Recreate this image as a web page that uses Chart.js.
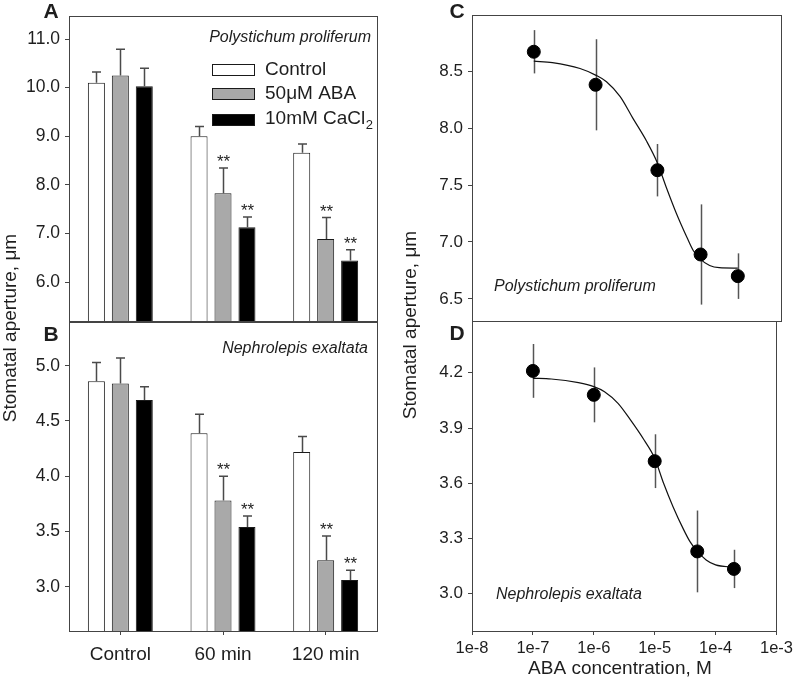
<!DOCTYPE html>
<html>
<head>
<meta charset="utf-8">
<script src="https://cdn.jsdelivr.net/npm/chart.js@4.4.1/dist/chart.umd.min.js"></script>
<style>
  html, body { margin: 0; padding: 0; background: #fff; }
  #wrap { position: relative; width: 797px; height: 685px; }
  canvas { position: absolute; left: 0; top: 0; }
</style>
</head>
<body>
<div id="wrap">
  <canvas id="panelA" width="797" height="685"></canvas>
  <canvas id="panelB" width="797" height="685"></canvas>
  <canvas id="panelC" width="797" height="685"></canvas>
  <canvas id="panelD" width="797" height="685"></canvas>
</div>
<script>
// categories
const groups = ["Control", "60 min", "120 min"];
const treatments = ["Control", "50\u03bcM ABA", "10mM CaCl\u2082"];

// panel A - Polystichum proliferum, bar means and upper errors
const polyControl = [10.10, 9.00, 8.66];
const polyControlErr = [0.22, 0.20, 0.18];
const polyAba = [10.25, 7.83, 6.89];
const polyAbaErr = [0.54, 0.52, 0.44];
const polyCacl = [10.03, 7.13, 6.45];
const polyCaclErr = [0.37, 0.21, 0.22];
const polyTicks = [6, 7, 8, 9, 10, 11];

// panel B - Nephrolepis exaltata
const nephControl = [4.86, 4.39, 4.22];
const nephControlErr = [0.17, 0.17, 0.14];
const nephAba = [4.84, 3.78, 3.24];
const nephAbaErr = [0.23, 0.22, 0.22];
const nephCacl = [4.69, 3.54, 3.06];
const nephCaclErr = [0.12, 0.10, 0.09];
const nephTicks = [3.0, 3.5, 4.0, 4.5, 5.0];

// significance marks (same for both species)
const controlSig = ["", "", ""];
const abaSig = ["", "**", "**"];
const caclSig = ["", "**", "**"];

// panels C and D - ABA dose response
const abaConc = [1e-7, 1e-6, 1e-5, 5e-5, 2e-4];
const polyDose = [8.67, 8.38, 7.63, 6.89, 6.70];
const polyDoseErr = [0.19, 0.40, 0.23, 0.44, 0.20];
const nephDose = [4.21, 4.08, 3.72, 3.23, 3.135];
const nephDoseErr = [0.146, 0.149, 0.146, 0.222, 0.104];

// fitted curves
const fitConc = [1e-7, 2e-7, 5.6e-7, 1e-6, 1.5e-6, 2.5e-6, 4e-6, 6.7e-6, 1e-5,
                 1.4e-5, 2e-5, 3e-5, 3.8e-5, 4.9e-5, 7e-5, 1e-4, 2e-4];
const polyFit = [8.587, 8.575, 8.523, 8.465, 8.407, 8.276, 8.087, 7.884, 7.694,
                 7.476, 7.259, 7.041, 6.925, 6.852, 6.794, 6.774, 6.770];
const nephFit = [4.170, 4.166, 4.146, 4.125, 4.097, 4.034, 3.944, 3.835, 3.736,
                 3.600, 3.473, 3.347, 3.283, 3.234, 3.184, 3.157, 3.144];

const concTicks = [1e-8, 1e-7, 1e-6, 1e-5, 1e-4, 1e-3];
const polyDoseTicks = [6.5, 7.0, 7.5, 8.0, 8.5];
const nephDoseTicks = [3.0, 3.3, 3.6, 3.9, 4.2];

const FONT = "'Liberation Sans', Arial, Helvetica, sans-serif";
const INK = "#1e1e1e";
const AXIS = "#444";
const barFill = ["#ffffff", "#a9a9a9", "#000000"];

Chart.defaults.font.family = FONT;
Chart.defaults.color = INK;

// box around each plot area
const frame = {
  id: "frame",
  afterDraw(chart) {
    const { ctx, chartArea: a } = chart;
    ctx.save();
    ctx.strokeStyle = AXIS;
    ctx.lineWidth = 1;
    ctx.strokeRect(Math.round(a.left) + 0.5, Math.round(a.top) + 0.5,
      Math.round(a.right - a.left), Math.round(a.bottom - a.top));
    ctx.restore();
  }
};

// upward error bars with caps + significance stars
const barErrors = {
  id: "barErrors",
  afterDatasetsDraw(chart, args, o) {
    if (!o.errors) return;
    const ctx = chart.ctx;
    const y = chart.scales.y;
    ctx.save();
    chart.data.datasets.forEach((ds, i) => {
      chart.getDatasetMeta(i).data.forEach((bar, j) => {
        const top = y.getPixelForValue(ds.data[j] + o.errors[i][j]);
        const x = Math.round(bar.x) + 0.5;
        ctx.strokeStyle = "#4a4a4a";
        ctx.lineWidth = 1.5;
        ctx.beginPath();
        ctx.moveTo(x, bar.y);
        ctx.lineTo(x, top);
        ctx.moveTo(x - 4.5, top);
        ctx.lineTo(x + 4.5, top);
        ctx.stroke();
        if (o.marks[i][j]) {
          ctx.fillStyle = INK;
          ctx.font = "17px " + FONT;
          ctx.textAlign = "center";
          ctx.textBaseline = "alphabetic";
          ctx.fillText(o.marks[i][j], x, top - 1);
        }
      });
    });
    ctx.restore();
  }
};

// symmetric vertical error bars for the dose points
const pointErrors = {
  id: "pointErrors",
  beforeDatasetsDraw(chart, args, o) {
    if (!o.errors) return;
    const { ctx, scales } = chart;
    ctx.save();
    ctx.strokeStyle = "#555";
    ctx.lineWidth = 1.5;
    o.conc.forEach((c, i) => {
      const x = Math.round(scales.x.getPixelForValue(c)) + 0.5;
      ctx.beginPath();
      ctx.moveTo(x, scales.y.getPixelForValue(o.means[i] - o.errors[i]));
      ctx.lineTo(x, scales.y.getPixelForValue(o.means[i] + o.errors[i]));
      ctx.stroke();
    });
    ctx.restore();
  }
};

function drawLabel(ctx, text, x, y, size) {
  // handles a trailing subscript two (CaCl2)
  const parts = text.split("\u2082");
  ctx.font = size + "px " + FONT;
  ctx.fillText(parts[0], x, y);
  if (parts.length > 1) {
    const w = ctx.measureText(parts[0]).width;
    ctx.font = Math.round(size * 0.7) + "px " + FONT;
    ctx.fillText("2", x + w + 0.5, y + 6);
  }
}

// legend drawn inside panel A
const boxLegend = {
  id: "boxLegend",
  afterDraw(chart, args, o) {
    if (!o.rows) return;
    const { ctx, chartArea: a } = chart;
    ctx.save();
    chart.data.datasets.forEach((ds, i) => {
      const x = a.left + o.boxX;
      const y = a.top + o.rows[i];
      ctx.fillStyle = ds.backgroundColor;
      ctx.fillRect(x, Math.round(y - 5.5), 42, 11);
      ctx.strokeStyle = "#1a1a1a";
      ctx.lineWidth = 1;
      ctx.strokeRect(x + 0.5, Math.round(y - 5.5) + 0.5, 42, 11);
      ctx.fillStyle = INK;
      ctx.textAlign = "left";
      ctx.textBaseline = "middle";
      drawLabel(ctx, ds.label, x + 53, y, 19);
    });
    ctx.restore();
  }
};

// free text: species names, panel letters, axis titles
const notes = {
  id: "notes",
  afterDraw(chart, args, o) {
    if (!o.items) return;
    const ctx = chart.ctx;
    o.items.forEach(n => {
      ctx.save();
      ctx.fillStyle = INK;
      ctx.font = n.font + " " + FONT;
      ctx.textAlign = n.align || "center";
      ctx.textBaseline = "middle";
      ctx.translate(n.x, n.y);
      if (n.rotate) ctx.rotate(n.rotate);
      ctx.fillText(n.text, 0, 0);
      ctx.restore();
    });
  }
};

Chart.register(frame, barErrors, pointErrors, boxLegend, notes);

function barPanel(id, o) {
  return new Chart(document.getElementById(id), {
    type: "bar",
    data: {
      labels: groups,
      datasets: o.means.map((m, i) => ({
        label: treatments[i],
        data: m,
        backgroundColor: barFill[i],
        borderColor: "#1a1a1a",
        borderWidth: 1,
        base: o.yMin,
        clip: 0,
        categoryPercentage: 0.70,
        barPercentage: 0.71
      }))
    },
    options: {
      responsive: false,
      animation: false,
      devicePixelRatio: 1,
      layout: {
        padding: { left: 0, right: 797 - 377, top: o.top, bottom: 685 - o.bottom - (o.showX ? 44 : 0) }
      },
      scales: {
        x: {
          display: o.showX,
          offset: true,
          grid: { offset: false, drawOnChartArea: false, tickLength: 4, color: AXIS },
          border: { display: false },
          ticks: { font: { size: 19 }, color: INK, padding: 8, maxRotation: 0 },
          afterFit: s => { if (o.showX) s.height = 44; }
        },
        y: {
          min: o.yMin,
          max: o.yMax,
          afterBuildTicks: s => { s.ticks = o.ticks.map(v => ({ value: v })); },
          ticks: { callback: v => Number(v).toFixed(1), font: { size: 17.5 }, color: INK, padding: 5 },
          grid: { drawOnChartArea: false, tickLength: 4, color: AXIS },
          border: { display: false },
          afterFit: s => { s.width = 69; }
        }
      },
      plugins: {
        legend: { display: false },
        tooltip: { enabled: false },
        barErrors: { errors: o.errors, marks: [controlSig, abaSig, caclSig] },
        boxLegend: o.legend || {},
        notes: { items: o.notes }
      }
    }
  });
}

function dosePanel(id, o) {
  return new Chart(document.getElementById(id), {
    type: "scatter",
    data: {
      datasets: [
        {
          type: "line",
          label: "fit",
          data: fitConc.map((x, i) => ({ x, y: o.fit[i] })),
          borderColor: "#111",
          borderWidth: 1.2,
          pointRadius: 0,
          cubicInterpolationMode: "monotone",
          fill: false,
          order: 2
        },
        {
          label: "mean",
          data: abaConc.map((x, i) => ({ x, y: o.means[i] })),
          backgroundColor: "#000",
          borderColor: "#000",
          pointRadius: 6.5,
          pointHoverRadius: 6.5,
          order: 1
        }
      ]
    },
    options: {
      responsive: false,
      animation: false,
      devicePixelRatio: 1,
      layout: {
        padding: { left: 400, right: 797 - 781, top: o.top, bottom: 685 - o.bottom - (o.showX ? 44 : 0) }
      },
      scales: {
        x: {
          type: "logarithmic",
          display: o.showX,
          min: 1e-8,
          max: 1e-3,
          afterBuildTicks: s => { s.ticks = concTicks.map(v => ({ value: v })); },
          ticks: { callback: v => Number(v).toExponential(0), font: { size: 16.5 }, color: INK, padding: 4, maxRotation: 0, autoSkip: false },
          grid: { drawOnChartArea: false, tickLength: 4, color: AXIS },
          border: { display: false },
          afterFit: s => { if (o.showX) s.height = 44; }
        },
        y: {
          min: o.yMin,
          max: o.yMax,
          afterBuildTicks: s => { s.ticks = o.ticks.map(v => ({ value: v })); },
          ticks: { callback: v => Number(v).toFixed(1), font: { size: 17 }, color: INK, padding: 5 },
          grid: { drawOnChartArea: false, tickLength: 4, color: AXIS },
          border: { display: false },
          afterFit: s => { s.width = 72; }
        }
      },
      plugins: {
        legend: { display: false },
        tooltip: { enabled: false },
        pointErrors: { conc: abaConc, means: o.means, errors: o.errors },
        notes: { items: o.notes }
      }
    }
  });
}

barPanel("panelA", {
  means: [polyControl, polyAba, polyCacl],
  errors: [polyControlErr, polyAbaErr, polyCaclErr],
  yMin: 5.205, yMax: 11.483, ticks: polyTicks,
  top: 13, bottom: 321, showX: false,
  legend: { boxX: 143, rows: [54, 78.3, 103.7] },
  notes: [
    { text: "Polystichum proliferum", x: 371, y: 38, font: "italic 16px", align: "right" },
    { text: "A", x: 51, y: 12, font: "bold 21px" },
    { text: "Stomatal aperture, \u03bcm", x: 11, y: 328, font: "19px", rotate: -Math.PI / 2 }
  ]
});

barPanel("panelB", {
  means: [nephControl, nephAba, nephCacl],
  errors: [nephControlErr, nephAbaErr, nephCaclErr],
  yMin: 2.599, yMax: 5.405, ticks: nephTicks,
  top: 321, bottom: 631, showX: true,
  notes: [
    { text: "Nephrolepis exaltata", x: 368, y: 349, font: "italic 16px", align: "right" },
    { text: "B", x: 51, y: 335, font: "bold 21px" }
  ]
});

dosePanel("panelC", {
  means: polyDose, errors: polyDoseErr, fit: polyFit,
  yMin: 6.306, yMax: 8.991, ticks: polyDoseTicks,
  top: 13, bottom: 321, showX: false,
  notes: [
    { text: "Polystichum proliferum", x: 494, y: 287, font: "italic 16px", align: "left" },
    { text: "C", x: 457, y: 12, font: "bold 21px" }
  ]
});

dosePanel("panelD", {
  means: nephDose, errors: nephDoseErr, fit: nephFit,
  yMin: 2.798, yMax: 4.481, ticks: nephDoseTicks,
  top: 321, bottom: 631, showX: true,
  notes: [
    { text: "Nephrolepis exaltata", x: 496, y: 595, font: "italic 16px", align: "left" },
    { text: "D", x: 457, y: 334, font: "bold 21px" },
    { text: "ABA concentration, M", x: 620, y: 669, font: "19px" },
    { text: "Stomatal aperture, \u03bcm", x: 411, y: 325, font: "19px", rotate: -Math.PI / 2 }
  ]
});
</script>
</body>
</html>
